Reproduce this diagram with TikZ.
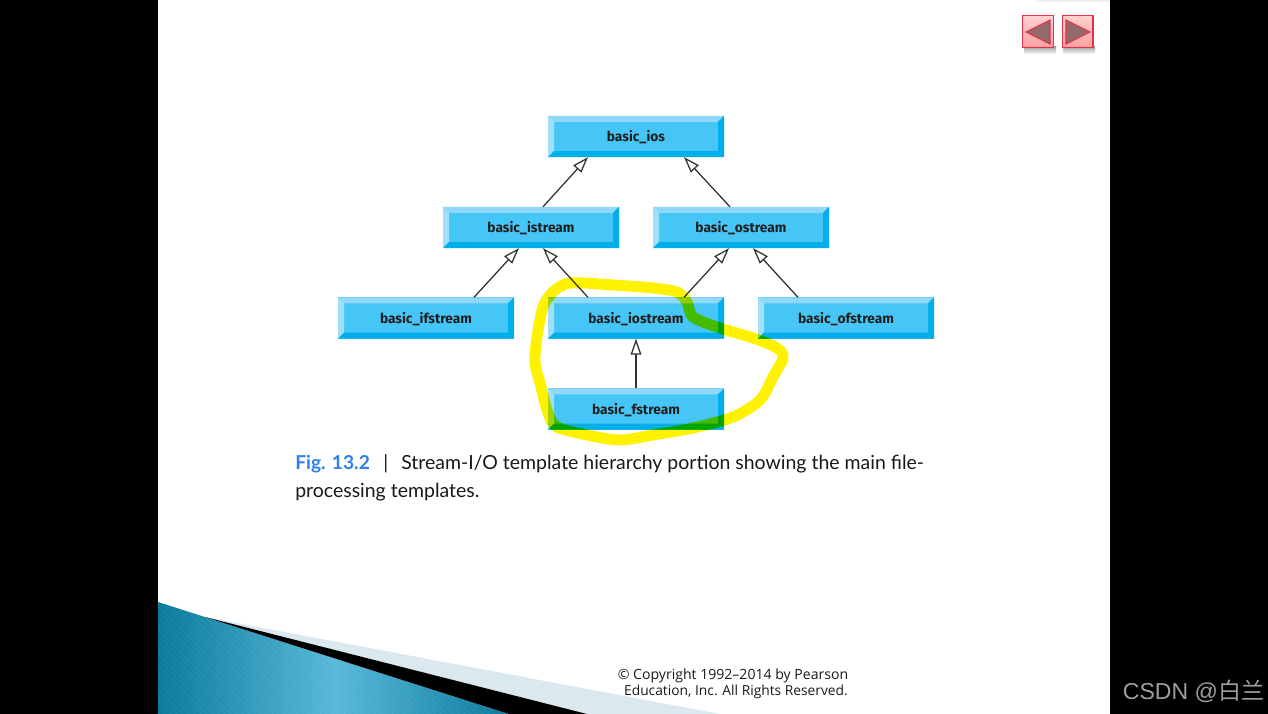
\documentclass[tikz,border=0pt]{standalone}
\usepackage{fontspec}
\setmainfont{Lato}
\newfontfamily\boxfont{Fira Sans}
\newfontfamily\copyfont{Open Sans}
\newfontfamily\markfont{Liberation Sans}
\newfontfamily\cjkfont{Noto Sans CJK SC}
\usetikzlibrary{arrows.meta,calc,shadings}
\definecolor{boxmid}{HTML}{45C6F7}
\definecolor{boxtop}{HTML}{8FD8F8}
\definecolor{boxleft}{HTML}{A0DFFA}
\definecolor{boxdark}{HTML}{00AEEA}
\definecolor{figblue}{HTML}{2F80ED}
\definecolor{arrowred}{HTML}{E23345}
\definecolor{tealdark}{HTML}{0A7A9C}
\definecolor{teallight}{HTML}{58B9DA}
\definecolor{wedge}{HTML}{D9E9EF}
\definecolor{btntop}{HTML}{FFD2D2}
\definecolor{btnbot}{HTML}{FF9FA2}
\definecolor{tricol}{HTML}{936A6C}
\tikzset{
  x=0.75pt,y=-0.75pt,
  classbox/.style={
    minimum width=132pt,minimum height=31pt,inner sep=0pt,outer sep=0pt,
    font=\boxfont\fontsize{10.3}{12}\fontseries{sb}\selectfont,text=black!88,
    fill=boxmid,text height=10pt,text depth=2pt,
    path picture={
      \fill[boxtop] (path picture bounding box.north west) -- (path picture bounding box.north east)
        -- ++(-4.5pt,-4.5pt) -- ($(path picture bounding box.north west)+(4.5pt,-4.5pt)$) -- cycle;
      \fill[boxleft] (path picture bounding box.north west) -- (path picture bounding box.south west)
        -- ++(4.5pt,4.5pt) -- ($(path picture bounding box.north west)+(4.5pt,-4.5pt)$) -- cycle;
      \fill[boxdark] (path picture bounding box.south west) -- (path picture bounding box.south east)
        -- ++(-4.5pt,4.5pt) -- ($(path picture bounding box.south west)+(4.5pt,4.5pt)$) -- cycle;
      \fill[boxdark] (path picture bounding box.north east) -- (path picture bounding box.south east)
        -- ++(-4.5pt,4.5pt) -- ($(path picture bounding box.north east)+(-4.5pt,-4.5pt)$) -- cycle;
    }},
  inherit/.style={draw=black!80,line width=0.95pt,
    -{Triangle[open,fill=white,length=12pt,width=8pt,line width=0.95pt]}},
  navbtn/.style={draw=arrowred,line width=1pt,top color=btntop,bottom color=btnbot,
    minimum width=23pt,minimum height=24pt,inner sep=0pt},
  navtri/.style={fill=tricol,draw=arrowred,line width=0.8pt},
  navshadow/.style={top color=black!40,bottom color=white},
  capt/.style={anchor=base west,inner sep=0pt,text=black!90,font=\fontsize{14.6}{17}\selectfont},
  copyr/.style={anchor=center,inner sep=0pt,text=black!90,font=\copyfont\fontsize{10.55}{12}\selectfont},
}
\begin{document}
\begin{tikzpicture}
\useasboundingbox (0,0) rectangle (1268,714);
\fill[black] (0,0) rectangle (1268,714);
\fill[white] (158,0) rectangle (1110,714);
\fill[black!6] (1036,0) rectangle (1110,1.5);
% corner decoration
\fill[wedge] (205,617) -- (720,714) -- (587,714) -- cycle;
\begin{scope}
  \clip (158,602) -- (205,617) -- (509,714) -- (158,714) -- cycle;
  \shade[left color=tealdark,right color=teallight] (158,602) rectangle (335,714);
  \shade[left color=teallight,right color=tealdark] (335,602) rectangle (509,714);
  \foreach \k in {-120,-114,...,360}
    \draw[white,opacity=0.07,line width=0.5pt] (158+\k,600) -- (158+\k+115,714);
\end{scope}
\fill[black] (205,617) -- (587,714) -- (509,714) -- cycle;
% navigation buttons
\fill[navshadow] (1024,46) rectangle (1056,54);
\fill[navshadow] (1063,46) rectangle (1095,54);
\node[navbtn] (prev) at (1038,31.5) {};
\node[navbtn] (next) at (1077.5,31.5) {};
\draw[navtri] (1026,32) -- (1050,20) -- (1050,44) -- cycle;
\draw[navtri] (1090,32) -- (1066,20) -- (1066,44) -- cycle;
% class hierarchy
\node[classbox] (ios) at (636,136.5) {basic\_ios};
\node[classbox] (istream) at (531,227.5) {basic\_istream};
\node[classbox] (ostream) at (741,227.5) {basic\_ostream};
\node[classbox] (ifstream) at (426,318) {basic\_ifstream};
\node[classbox] (iostream) at (636,318) {basic\_iostream};
\node[classbox] (ofstream) at (846,318) {basic\_ofstream};
\node[classbox] (fstream) at (636,409) {basic\_fstream};
\draw[inherit] ([xshift=9pt]istream.north) -- ([xshift=-36pt]ios.south);
\draw[inherit] ([xshift=-8.25pt]ostream.north) -- ([xshift=36pt]ios.south);
\draw[inherit] ([xshift=36pt]ifstream.north) -- ([xshift=-9pt]istream.south);
\draw[inherit] ([xshift=-36pt]iostream.north) -- ([xshift=9pt]istream.south);
\draw[inherit] ([xshift=36pt]iostream.north) -- ([xshift=-9pt]ostream.south);
\draw[inherit] ([xshift=-36pt]ofstream.north) -- ([xshift=9pt]ostream.south);
\draw[inherit] (fstream.north) -- (iostream.south);
% highlighter
\begin{scope}[blend mode=multiply]
\draw[yellow,line width=8.2pt,line join=round,line cap=round]
  plot[smooth cycle,tension=0.5] coordinates {(570,283) (613,285) (653,288) (677,292) (687,302) (693,317) (720,328) (753,338) (777,348) (783,358) (773,377) (760,400) (733,417) (693,428) (653,435) (620,440) (587,435) (557,427) (548,413) (540,383) (535,363) (537,337) (543,307) (553,292)};
\end{scope}
% caption
\node[capt,text=figblue,font=\fontsize{14.4}{17}\selectfont\bfseries] (figlabel) at (295,469) {Fig. 13.2};
\node[capt] (sep) at (383,469) {|};
\node[capt] (cap1) at (401,469) {Stream-I/O template hierarchy portion showing the main file-};
\node[capt] (cap2) at (295,497) {processing templates.};
\node[copyr] (copy1) at (733,676) {© Copyright 1992–2014 by Pearson};
\node[copyr,font=\copyfont\fontsize{10.35}{12}\selectfont] (copy2) at (736,691.5) {Education, Inc. All Rights Reserved.};
\node[anchor=center,inner sep=0pt,text=black!38,font=\markfont\fontsize{17.3}{20}\selectfont] (mark) at (1193.5,691.5) {CSDN @{\cjkfont 白兰}};
\end{tikzpicture}
\end{document}
